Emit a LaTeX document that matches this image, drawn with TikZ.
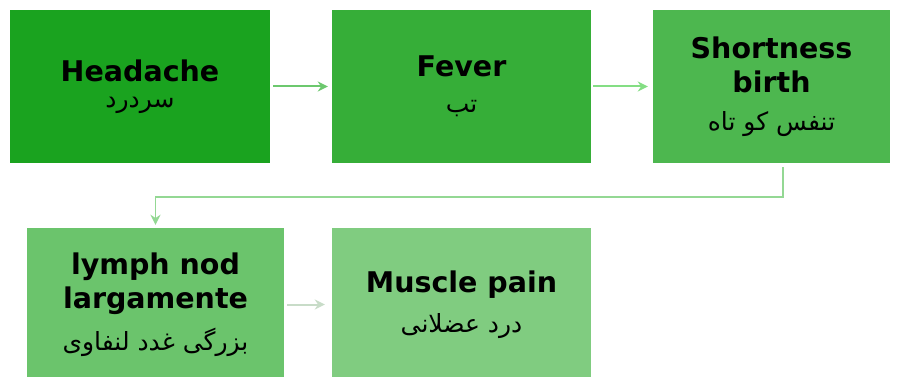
\documentclass[tikz,border=0pt]{standalone}
\usepackage{fontspec}
\setmainfont{DejaVu Sans}
\newfontfamily\arabicfont[Script=Arabic]{DejaVu Sans}
\TeXXeTstate=1
\usetikzlibrary{arrows.meta}
\definecolor{boxa}{HTML}{1AA31F}
\definecolor{boxb}{HTML}{36AE38}
\definecolor{boxc}{HTML}{4DB74F}
\definecolor{boxd}{HTML}{6BC46C}
\definecolor{boxe}{HTML}{80CC80}
\definecolor{linka}{HTML}{6CC86E}
\definecolor{linkb}{HTML}{84DE84}
\definecolor{linkc}{HTML}{94D894}
\definecolor{linkd}{HTML}{C8DCC8}
\newcommand\fatext[1]{{\arabicfont\mdseries\fontsize{25}{29}\selectfont\beginR #1\endR}}

\begin{document}
\begin{tikzpicture}[x=1pt,y=-1pt,
    sym/.style={inner sep=0pt,minimum height=153pt,align=center,
      font=\fontsize{28.5}{34}\selectfont\bfseries},
    link/.style={-{Stealth[length=10pt,width=10pt]},line width=2pt}]
  \useasboundingbox (0,0) rectangle (900,377);
  % top row
  \node[sym,fill=boxa,minimum width=260pt] (head) at (140,86.5)
    {Headache\\[-8pt]\fatext{سردرد}};
  \node[sym,fill=boxb,minimum width=259pt] (fever) at (461.5,86.5)
    {Fever\\[2pt]\fatext{تب}};
  \node[sym,fill=boxc,minimum width=237pt] (short) at (771.5,86.5)
    {Shortness\\birth\\[4pt]\fatext{تنفس کو تاه}};
  % bottom row
  \node[sym,fill=boxd,minimum width=257pt] (lymph) at (155.5,304.5)
    {lymph nod\\largamente\\[8pt]\fatext{بزرگی غدد لنفاوی}};
  \node[sym,fill=boxe,minimum width=259pt] (muscle) at (461.5,304.5)
    {Muscle pain\\[6pt]\fatext{درد عضلانی}};
  % links
  \draw[link,linka,shorten <=3pt,shorten >=4pt] (head) -- (fever);
  \draw[link,linkb,shorten <=2pt,shorten >=5pt] (fever) -- (short);
  \draw[link,linkc,line width=1.6pt,shorten <=4pt,shorten >=3pt]
    ([xshift=11.5pt]short.south) -- ++(0,34) -| (lymph.north);
  \draw[link,linkd,shorten <=3pt,shorten >=7pt] (lymph) -- (muscle);
\end{tikzpicture}
\end{document}
